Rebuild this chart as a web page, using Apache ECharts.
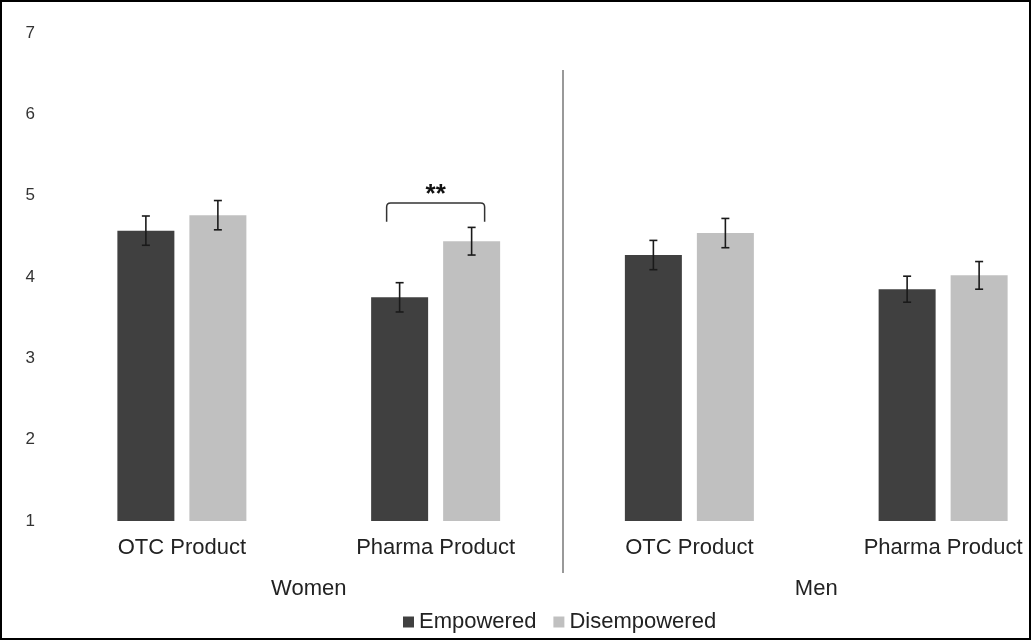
<!DOCTYPE html>
<html><head><meta charset="utf-8">
<script src="https://cdn.jsdelivr.net/npm/echarts@6/dist/echarts.min.js"></script>
<style>html,body{margin:0;padding:0;background:#fff;overflow:hidden}#c{width:1070px;height:640px}</style>
</head><body><div id="c"></div>
<script>
const categories = ['OTC Product', 'Pharma Product', 'OTC Product', 'Pharma Product'];
const groups = ['Women', 'Men'];
const seriesNames = ['Empowered', 'Disempowered'];
const empowered = [4.57, 3.75, 4.27, 3.85];
const disempowered = [4.76, 4.44, 4.54, 4.02];
const empoweredErr = [0.18, 0.18, 0.18, 0.16];
const disempoweredErr = [0.18, 0.17, 0.18, 0.17];
const yTicks = [1, 2, 3, 4, 5, 6, 7];
// significance bracket: [categoryIndex, bottom of legs, top of bracket, label]
const bracket = [[1, 4.68, 4.91, '**']];

const FONT = 'Liberation Sans, Arial, sans-serif';
const chart = echarts.init(document.getElementById('c'));
const BAR_W = 57, GAP = 15, OFF = (BAR_W + GAP) / 2;

function errItem(offset) {
  return function (params, api) {
    const x = api.coord([api.value(0), 0])[0] + offset;
    const lo = api.coord([api.value(0), api.value(1)])[1];
    const hi = api.coord([api.value(0), api.value(2)])[1];
    const st = { stroke: '#1a1a1a', lineWidth: 1.6 };
    return { type: 'group', children: [
      { type: 'line', shape: { x1: x, y1: lo, x2: x, y2: hi }, style: st },
      { type: 'line', shape: { x1: x - 4, y1: lo, x2: x + 4, y2: lo }, style: st },
      { type: 'line', shape: { x1: x - 4, y1: hi, x2: x + 4, y2: hi }, style: st }
    ]};
  };
}

chart.setOption({
  animation: false,
  backgroundColor: '#fff',
  textStyle: { fontFamily: FONT },
  grid: { left: 55, width: 1015, top: 33, bottom: 119 },
  legend: {
    data: seriesNames, top: 606, left: 398, icon: 'rect',
    itemWidth: 11, itemHeight: 11, itemGap: 17,
    textStyle: { fontSize: 22, color: '#222', fontFamily: FONT }
  },
  xAxis: [
    { type: 'category', data: categories, axisLine: { show: false }, axisTick: { show: false },
      axisLabel: { fontSize: 22, color: '#222', margin: 16, interval: 0 } },
    { type: 'category', data: groups, position: 'bottom', offset: 40, axisLine: { show: false }, axisTick: { show: false },
      axisLabel: { fontSize: 22, color: '#222', margin: 17 } }
  ],
  yAxis: {
    type: 'value', min: yTicks[0], max: yTicks[yTicks.length - 1], interval: 1,
    axisLine: { show: false }, axisTick: { show: false }, splitLine: { show: false },
    axisLabel: { fontSize: 17, color: '#333', margin: 20 }
  },
  series: [
    { name: seriesNames[0], type: 'bar', data: empowered, barWidth: BAR_W, barGap: (GAP / BAR_W * 100) + '%',
      itemStyle: { color: '#404040' } },
    { name: seriesNames[1], type: 'bar', data: disempowered, barWidth: BAR_W,
      itemStyle: { color: '#c0c0c0' } },
    { type: 'custom', renderItem: errItem(-OFF), z: 5,
      data: empowered.map((v, i) => [i, v - empoweredErr[i], v + empoweredErr[i]]) },
    { type: 'custom', renderItem: errItem(OFF), z: 5,
      data: disempowered.map((v, i) => [i, v - disempoweredErr[i], v + disempoweredErr[i]]) },
    { type: 'custom', z: 5, data: bracket,
      renderItem: function (params, api) {
        const cx = api.coord([api.value(0), 0])[0];
        const yb = api.coord([api.value(0), api.value(1)])[1];
        const yt = api.coord([api.value(0), api.value(2)])[1];
        const x1 = cx - 49, x2 = cx + 49, r = 4;
        return { type: 'group', children: [
          { type: 'path', shape: { pathData:
            'M' + x1 + ' ' + yb + ' L' + x1 + ' ' + (yt + r) + ' Q' + x1 + ' ' + yt + ' ' + (x1 + r) + ' ' + yt +
            ' L' + (x2 - r) + ' ' + yt + ' Q' + x2 + ' ' + yt + ' ' + x2 + ' ' + (yt + r) + ' L' + x2 + ' ' + yb },
            style: { fill: 'none', stroke: '#333', lineWidth: 1.5 } },
          { type: 'text', style: { text: bracket[params.dataIndex][3], x: cx, y: yt + 5,
            align: 'center', verticalAlign: 'bottom', fontSize: 26, fontWeight: 'bold', fill: '#111',
            fontFamily: FONT } }
        ]};
      } }
  ],
  graphic: [
    { type: 'line', shape: { x1: 563, y1: 70, x2: 563, y2: 573 }, style: { stroke: '#999', lineWidth: 2 } },
    { type: 'rect', shape: { x: 1, y: 1, width: 1029, height: 638 }, style: { fill: 'none', stroke: '#000', lineWidth: 2 } }
  ]
});
</script></body></html>
